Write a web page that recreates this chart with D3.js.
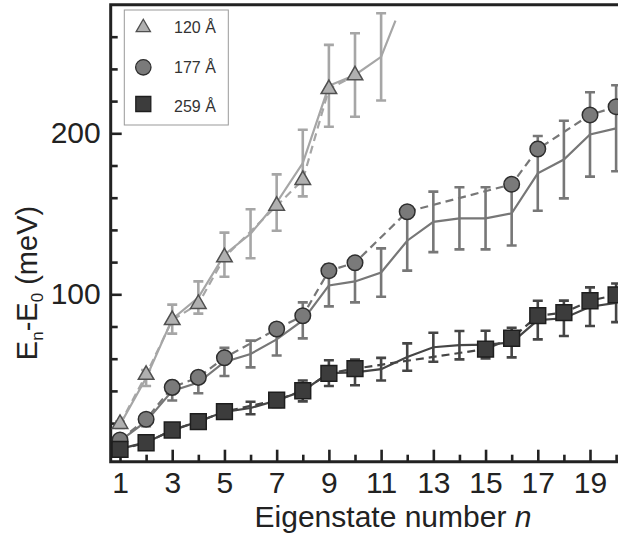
<!DOCTYPE html>
<html><head><meta charset="utf-8">
<script src="https://cdn.jsdelivr.net/npm/d3@7"></script>
<style>body{margin:0;background:#fff}svg{display:block}text{font-family:"Liberation Sans",Arial,sans-serif}</style>
</head><body><svg id="c" width="618" height="546"></svg>
<script>
// ---- data ----
const seriesNames = ["120 Å", "177 Å", "259 Å"];
// 120 Å
const exp120N = [1,2,3,4,5,7,8,9,10];
const exp120V = [19.5,50,84,94,123,155,171,227.5,236];
const th120N  = [1,2,3,4,5,6,7,8,9,10,11];
const th120V  = [19,48,84.6,98,124.6,137.6,157,181.5,229.5,236.2,247.5];
const th120E  = [2,5,9,10,13.7,15.2,17.5,20.7,25.4,25.9,27.1];
const th120TailN = 11.55, th120TailV = 270;
// 177 Å
const exp177N = [1,2,3,4,5,7,8,9,10,12,16,17,19,20];
const exp177V = [9.5,22.4,42.2,48.4,60.6,78.4,86.7,114.6,119.6,151.3,168.3,190.2,211.4,216.5];
const th177N  = [1,2,3,4,5,6,7,8,9,10,11,12,13,14,15,16,17,18,19,20];
const th177V  = [9,21,40,45.2,58,62.9,72,83.8,105.5,108,113.5,133.3,145,147.2,147.2,150.3,175.1,183.7,199.3,203.1];
const th177E  = [2,3,6,6.7,8.7,8.3,10,11.2,13,13,15,18.6,18.8,19.3,19.3,20,23.2,24.1,26.2,26.7];
// 259 Å
const exp259N = [1,2,3,4,5,7,8,9,10,15,16,17,18,19,20];
const exp259V = [3.7,7.8,15.7,20.9,27.1,34.3,40.1,50.9,53.8,66,72.7,86.7,88.6,96,99.6];
const th259N  = [1,2,3,4,5,6,7,8,9,10,11,12,13,14,15,16,17,18,19,20];
const th259V  = [4,8,15.5,21,27,29.4,34,40,51,51.5,53.5,61,67.1,68.4,68.8,70,84,85.1,92.3,94.7];
const th259E  = [1,2,2,3,3,3.9,4,6.5,8,8,7,8.5,9,8.8,8.6,9.2,12,11,12,12];
// ticks
const xMajorTicks = [1,3,5,7,9,11,13,15,17,19];
const xMinorTicks = [2,4,6,8,10,12,14,16,18,20];
const yMajorTicks = [100,200];
const yMinorTicks = [0,20,40,60,80,120,140,160,180,220,240,260];

// ---- layout ----
const svg = d3.select("#c");
const L = 110.7, T = 4.7, B = 461.7, R = 640;
const x = d3.scaleLinear().domain([1,19]).range([120,590]);
const y = d3.scaleLinear().domain([0,200]).range([455.3,133.3]);
const ink = "#222";

svg.append("defs").append("clipPath").attr("id","clip")
  .append("rect").attr("x",L).attr("y",T).attr("width",R-L).attr("height",B-T);

// axes ticks
function styleAxis(g){ g.select(".domain").remove(); g.selectAll("line").attr("stroke",ink).attr("stroke-width",2.6);
  g.selectAll("text").attr("fill",ink).style("font-size","30px").style("font-family","'Liberation Sans',Arial,sans-serif"); }
svg.append("g").attr("transform",`translate(${L},0)`)
  .call(d3.axisLeft(y).tickValues(yMajorTicks).tickSize(-11).tickPadding(10).tickFormat(d3.format("d"))).call(styleAxis);
svg.append("g").attr("transform",`translate(${L},0)`)
  .call(d3.axisLeft(y).tickValues(yMinorTicks).tickSize(-7).tickFormat("")).call(styleAxis);
svg.append("g").attr("transform",`translate(0,${B})`)
  .call(d3.axisBottom(x).tickValues(xMajorTicks).tickSize(-12).tickPadding(10).tickFormat(d3.format("d"))).call(styleAxis);
svg.append("g").attr("transform",`translate(0,${B})`)
  .call(d3.axisBottom(x).tickValues(xMinorTicks).tickSize(-7).tickFormat("")).call(styleAxis);

// frame
svg.append("path").attr("d",`M${R},${T}H${L}V${B}H${R}`).attr("fill","none").attr("stroke",ink).attr("stroke-width",3);

const plot = svg.append("g").attr("clip-path","url(#clip)");

const series = [
  {expN:exp120N, expV:exp120V, thN:th120N, thV:th120V, thE:th120E, tail:[th120TailN,th120TailV],
   line:"#a6a6a6", fill:"#b0b0b0", stroke:"#505050", sym:d3.symbolTriangle, size:105, lsize:88},
  {expN:exp177N, expV:exp177V, thN:th177N, thV:th177V, thE:th177E, tail:null,
   line:"#777777", fill:"#7a7a7a", stroke:"#2e2e2e", sym:d3.symbolCircle, size:190, lsize:186},
  {expN:exp259N, expV:exp259V, thN:th259N, thV:th259V, thE:th259E, tail:null,
   line:"#454545", fill:"#3c3c3c", stroke:"#1e1e1e", sym:d3.symbolSquare, size:250, lsize:225}
];

const lineGen = d3.line().x(d=>x(d[0])).y(d=>y(d[1]));

series.forEach(s=>{
  // error bars
  const g = plot.append("g").attr("stroke",s.line).attr("stroke-width",2.6).attr("fill","none");
  s.thN.forEach((n,i)=>{
    const v=s.thV[i], e=s.thE[i], cx=x(n);
    g.append("line").attr("x1",cx).attr("x2",cx).attr("y1",y(v-e)).attr("y2",y(v+e));
    g.append("line").attr("x1",cx-5).attr("x2",cx+5).attr("y1",y(v-e)).attr("y2",y(v-e));
    g.append("line").attr("x1",cx-5).attr("x2",cx+5).attr("y1",y(v+e)).attr("y2",y(v+e));
  });
  // solid line
  const pts = s.thN.map((n,i)=>[n,s.thV[i]]);
  if(s.tail) pts.push(s.tail);
  plot.append("path").attr("d",lineGen(pts)).attr("fill","none").attr("stroke",s.line).attr("stroke-width",2.2);
});
series.forEach(s=>{
  const pts = s.expN.map((n,i)=>[n,s.expV[i]]);
  plot.append("path").attr("d",lineGen(pts)).attr("fill","none").attr("stroke",s.line)
    .attr("stroke-width",2.2).attr("stroke-dasharray","8,5");
});
series.forEach(s=>{
  plot.append("g").selectAll("path").data(s.expN.map((n,i)=>[n,s.expV[i]])).join("path")
    .attr("d",d3.symbol(s.sym,s.size)()).attr("transform",d=>`translate(${x(d[0])},${y(d[1])})`)
    .attr("fill",s.fill).attr("stroke",s.stroke).attr("stroke-width",1.5);
});

// legend
const lg = svg.append("g");
lg.append("rect").attr("x",124.3).attr("y",10).attr("width",104).attr("height",115)
  .attr("fill","#fff").attr("stroke","#999").attr("stroke-width",1);
const legY = [27.5,67.3,104];
const legTextY = [33.3,73.3,111.7];
series.forEach((s,i)=>{
  lg.append("path").attr("d",d3.symbol(s.sym,s.lsize)()).attr("transform",`translate(143.3,${legY[i]})`)
    .attr("fill",s.fill).attr("stroke",s.stroke).attr("stroke-width",1.3);
  lg.append("text").attr("x",174).attr("y",legTextY[i]).attr("fill","#333").style("font-size","16px").text(seriesNames[i]);
});

// axis titles
const xt = svg.append("text").attr("x",393).attr("y",527).attr("text-anchor","middle").attr("fill",ink).style("font-size","30px");
xt.append("tspan").text("Eigenstate number ");
xt.append("tspan").attr("font-style","italic").text("n");

const yt = svg.append("text").attr("transform","translate(37,283) rotate(-90)").attr("text-anchor","middle").attr("fill",ink).style("font-size","29px");
yt.append("tspan").text("E");
yt.append("tspan").attr("dy",6).style("font-size","17px").text("n");
yt.append("tspan").attr("dy",-6).text("-E");
yt.append("tspan").attr("dy",6).style("font-size","17px").text("0");
yt.append("tspan").attr("dy",-6).text(" (meV)");
</script></body></html>
